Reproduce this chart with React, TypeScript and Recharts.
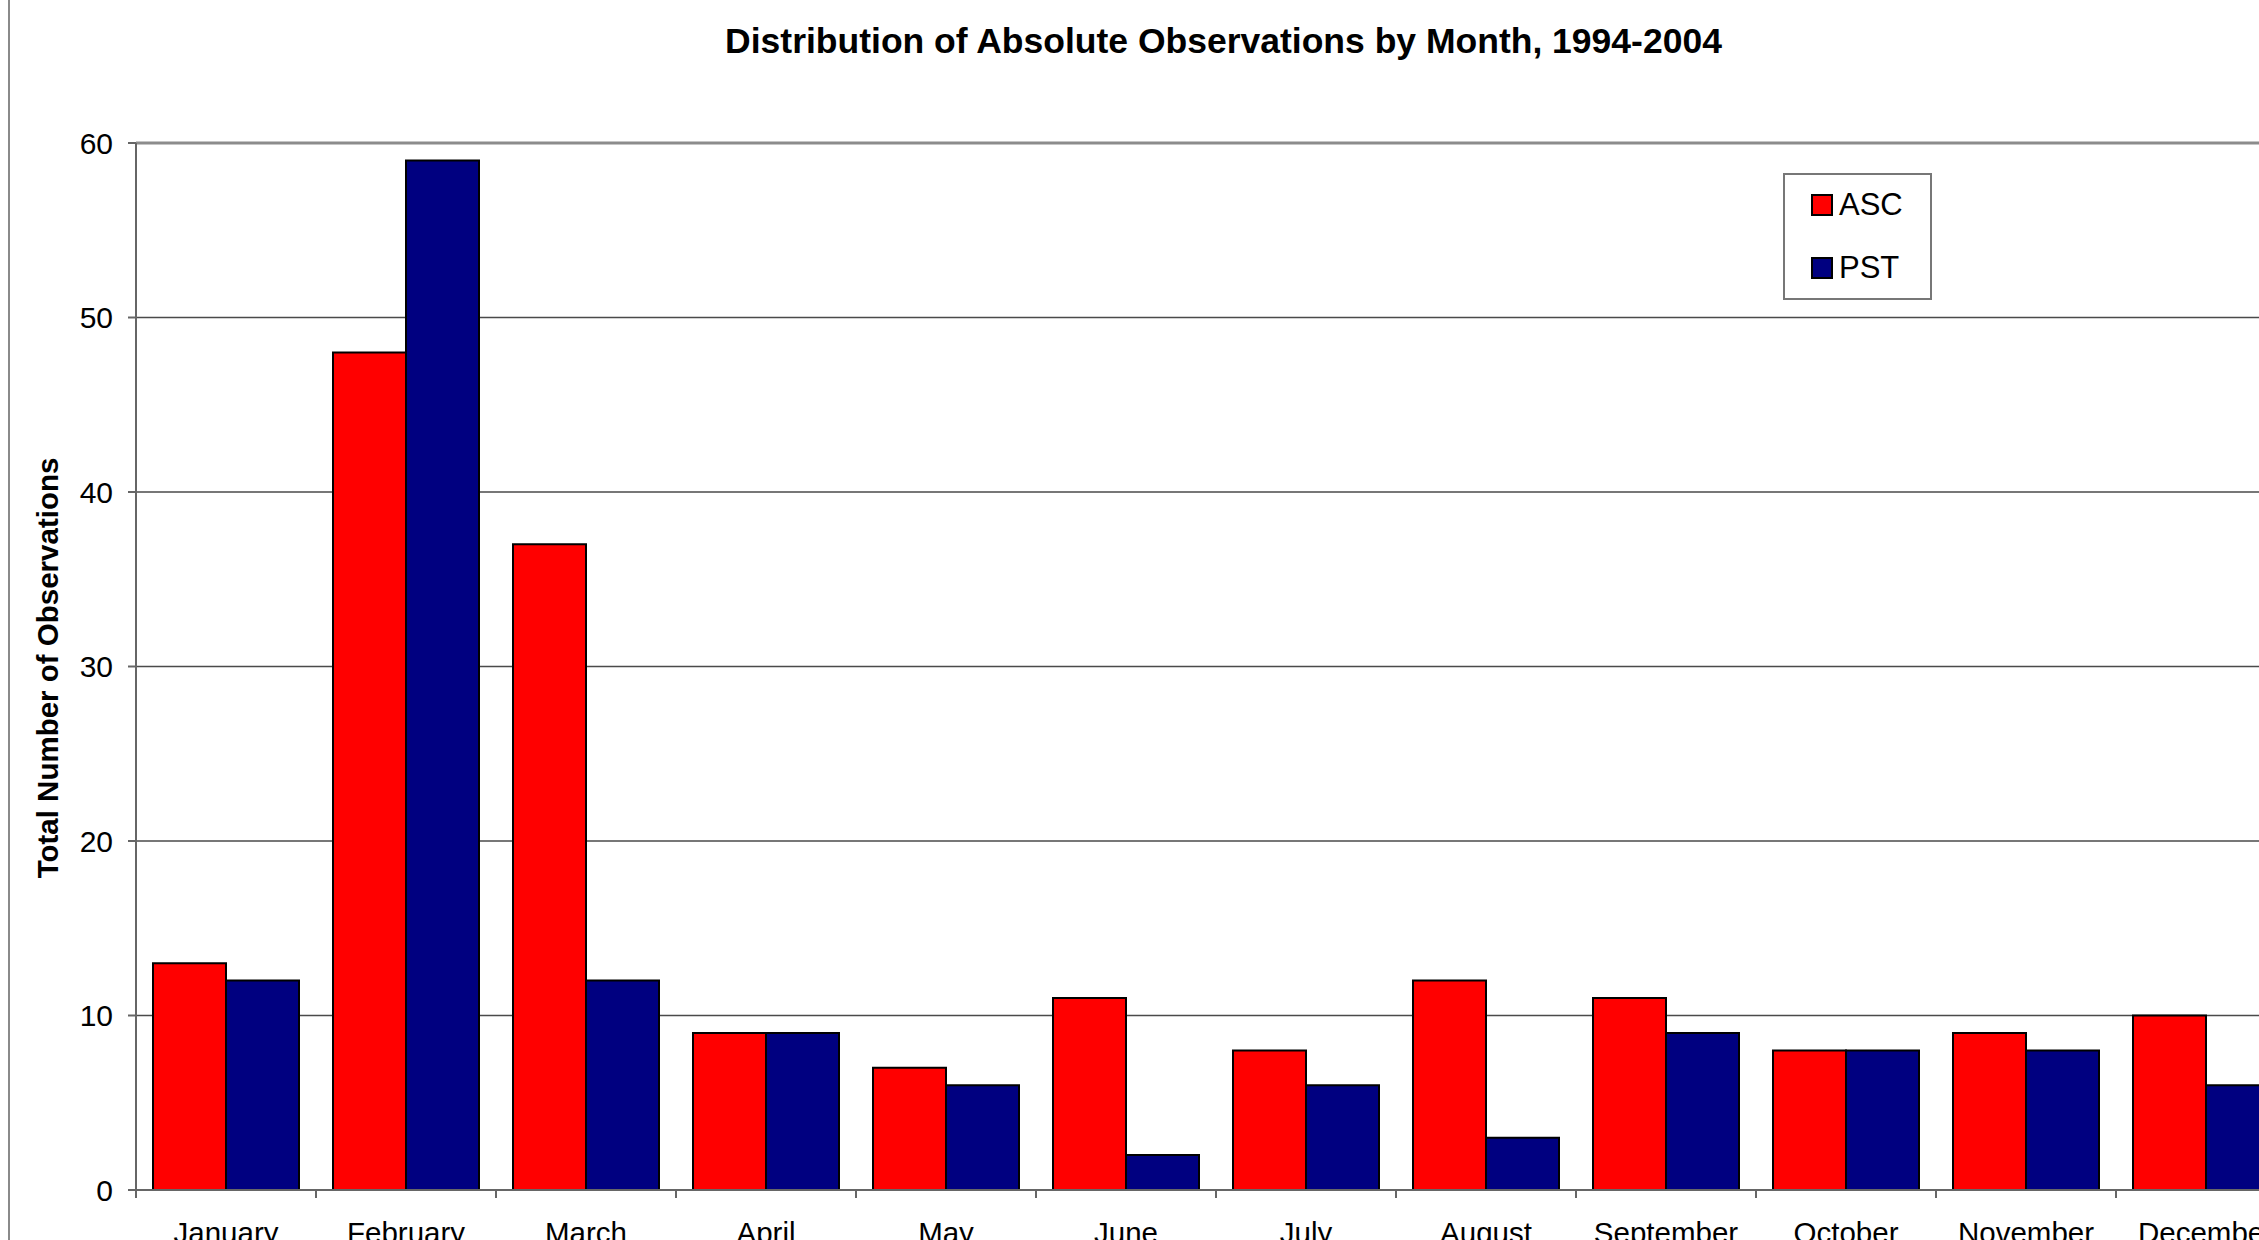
import React from 'react';
import { BarChart, Bar, XAxis, YAxis, CartesianGrid, Legend, ReferenceLine } from 'recharts';

const months = ['January', 'February', 'March', 'April', 'May', 'June', 'July', 'August', 'September', 'October', 'November', 'December'];
const ascValues = [13, 48, 37, 9, 7, 11, 8, 12, 11, 8, 9, 10];
const pstValues = [12, 59, 12, 9, 6, 2, 6, 3, 9, 8, 8, 6];
const yTicks = [0, 10, 20, 30, 40, 50, 60];

const chartData = months.map((m, i) => ({ month: m, ASC: ascValues[i], PST: pstValues[i] }));

const FONT = '"Liberation Sans", Arial, sans-serif';
const X_TICK_SIZE = 8;
const X_TICK_MARGIN = 24;

// Excel-style: label at the middle of the group, tick mark on the boundary
const MonthTick = (props: any) => {
  const { x, y, payload } = props;
  const bx = x - (payload.offset || 0);
  const top = y - X_TICK_MARGIN - X_TICK_SIZE;
  return (
    <g>
      <line x1={bx} x2={bx} y1={top} y2={top + X_TICK_SIZE} stroke="#666" strokeWidth={2} />
      <text x={x} y={y} dy="0.71em" textAnchor="middle" fill="#000" fontSize={29.5} fontFamily={FONT}>
        {payload.value}
      </text>
    </g>
  );
};

const LegendBox = (props: any) => {
  const items = props.payload || [];
  return (
    <div
      style={{
        width: 149,
        height: 127,
        boxSizing: 'border-box',
        border: '2px solid #777',
        background: '#fff',
        paddingTop: 10,
        paddingLeft: 26,
        fontFamily: FONT,
      }}
    >
      {items.map((it: any) => (
        <div key={it.value} style={{ display: 'flex', alignItems: 'center', height: 40, marginBottom: 23 }}>
          <div style={{ width: 22, height: 22, boxSizing: 'border-box', border: '2px solid #000', background: it.color }} />
          <span style={{ marginLeft: 6, fontSize: 31, color: '#000', lineHeight: '40px' }}>{it.value}</span>
        </div>
      ))}
    </div>
  );
};

export default function App() {
  return (
    <div
      style={{
        position: 'fixed',
        left: 0,
        top: 0,
        width: 2259,
        height: 1240,
        overflow: 'hidden',
        background: '#fff',
        fontFamily: FONT,
      }}
    >
      <div style={{ position: 'absolute', left: 8, top: 0, width: 2, height: 1240, background: '#8a8a8a' }} />
      <div
        style={{
          position: 'absolute',
          left: 0,
          top: 24,
          width: 2447,
          textAlign: 'center',
          fontSize: 35.5,
          lineHeight: '35px',
          fontWeight: 'bold',
          color: '#000',
        }}
      >
        Distribution of Absolute Observations by Month, 1994-2004
      </div>
      <div
        style={{
          position: 'absolute',
          left: 48,
          top: 668,
          transform: 'translate(-50%, -50%) rotate(-90deg)',
          whiteSpace: 'nowrap',
          fontSize: 29.5,
          lineHeight: '30px',
          fontWeight: 'bold',
          color: '#000',
        }}
      >
        Total Number of Observations
      </div>
      <BarChart
        width={2300}
        height={1290}
        data={chartData}
        margin={{ top: 143, right: 4, bottom: 0, left: 0 }}
        barCategoryGap={17}
        barGap={0}
      >
        <CartesianGrid vertical={false} stroke="#4a4a4a" strokeWidth={1.5} />
        <XAxis
          dataKey="month"
          height={100}
          interval={0}
          axisLine={{ stroke: '#666', strokeWidth: 2 }}
          tickLine={false}
          tickSize={X_TICK_SIZE}
          tickMargin={X_TICK_MARGIN}
          tick={<MonthTick />}
        />
        <YAxis
          width={136}
          domain={[0, 60]}
          ticks={yTicks}
          interval={0}
          axisLine={{ stroke: '#666', strokeWidth: 2 }}
          tickLine={{ stroke: '#666', strokeWidth: 2 }}
          tickSize={8}
          tickMargin={15}
          tick={{ fill: '#000', fontSize: 30, fontFamily: FONT }}
        />
        <ReferenceLine y={60} stroke="#8c8c8c" strokeWidth={3} />
        <Legend
          layout="vertical"
          align="center"
          verticalAlign="middle"
          content={<LegendBox />}
          wrapperStyle={{ position: 'absolute', left: 1783, top: 173, width: 149, height: 127 }}
        />
        <Bar dataKey="ASC" name="ASC" fill="#ff0000" stroke="#000" strokeWidth={2} isAnimationActive={false} />
        <Bar dataKey="PST" name="PST" fill="#000080" stroke="#000" strokeWidth={2} isAnimationActive={false} />
      </BarChart>
    </div>
  );
}
